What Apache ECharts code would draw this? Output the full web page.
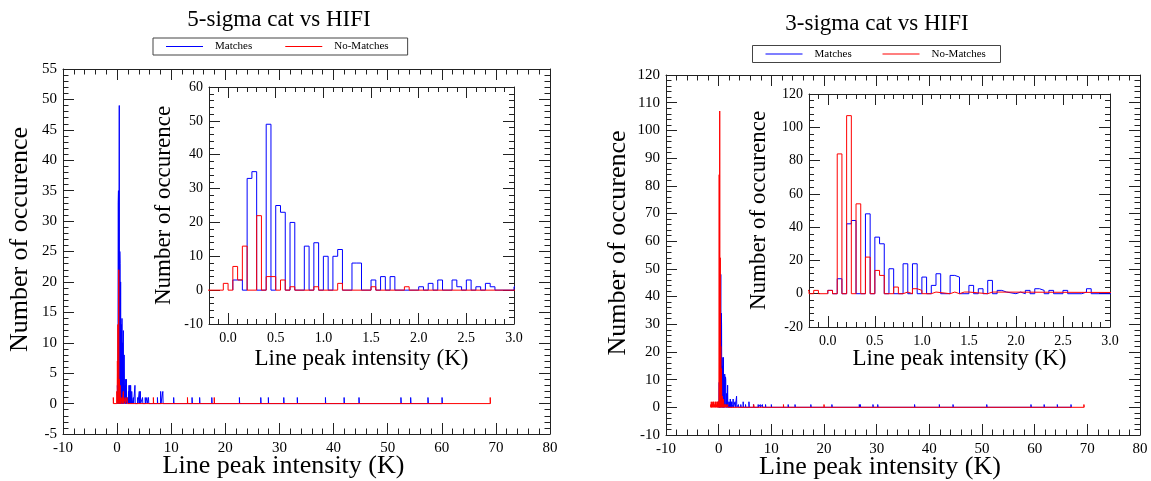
<!DOCTYPE html>
<html><head><meta charset="utf-8">
<script src="https://cdn.jsdelivr.net/npm/echarts@6/dist/echarts.min.js"></script>
<style>html,body{margin:0;padding:0;background:#fff}#c{width:1151px;height:481px}</style>
</head><body><div id="c"></div>
<script>
// ---------- data ----------
const BIN_WIDTH = 0.05; // histogram bin width (K)
// bins: [bin start (K), number of occurrences]
const matches5 = [[0.05,3],[0.1,3],[0.2,33],[0.25,35],[0.4,49],[0.5,25],[0.55,23],[0.65,20],[0.8,13],[0.9,14],[1.0,10],[1.1,10],[1.15,12],[1.3,8],[1.35,8],[1.5,3],[1.6,4],[1.7,4],[2.0,1],[2.1,2],[2.2,3],[2.35,3],[2.4,1],[2.5,3],[2.6,1],[2.7,2],[2.75,1],
  [3.0,1],[3.3,3],[3.8,1],[4.1,2],[4.3,2],[4.7,1],[5.2,1],[5.5,1],[5.8,1],[7.45,1],[8.05,2],[8.45,2],[10.45,1],[13.85,1],[15.25,1],[17.5,1],[22.6,1],[26.55,1],[27.95,1],[30.8,1],[33.3,1],[38.5,1],[41.95,1],[44.7,1],[52.45,1],[54.25,1],[57.45,1],[60.05,1]];
const noMatches5 = [[-0.7,1],[-0.05,2],[0.05,7],[0.1,3],[0.15,13],[0.3,22],[0.4,4],[0.45,4],[0.55,3],[0.65,1],[0.9,1],[1.15,2],[1.5,1],[1.85,1],[6.7,1],[13.0,1],[17.95,1],[68.95,1]];
const matches3 = [[0.0,2],[0.1,9],[0.2,42],[0.25,44],[0.4,48],[0.5,34],[0.55,30],[0.65,15],[0.8,18],[0.9,18],[1.0,10],[1.1,5],[1.15,12],[1.3,11],[1.35,10],[1.5,5],[1.6,3],[1.7,8],[1.8,2],[1.85,1],[2.0,1],[2.1,2],[2.2,3],[2.25,2],[2.35,2],[2.5,2],[2.7,1],[2.75,3],
  [3.1,2],[3.4,4],[3.75,1],[4.2,1],[4.65,2],[5.1,1],[5.75,2],[6.6,1],[7.5,1],[7.9,1],[8.3,1],[8.9,1],[10.0,1],[13.2,1],[14.5,1],[17.5,1],[21.5,1],[26.7,1],[26.9,1],[29.3,1],[30.2,1],[37.2,1],[41.9,1],[44.5,1],[50.9,1],[59.3,1],[61.8,1],[64.3,1],[66.9,1]];
const noMatches3 = [[-1.5,1],[-1.4,2],[-1.25,1],[-1.1,2],[-0.95,2],[-0.8,1],[-0.65,2],[-0.5,2],[-0.35,1],[-0.25,2],[-0.15,2],[0.0,2],[0.1,84],[0.2,107],[0.3,54],[0.4,22],[0.5,14],[0.55,11],[0.7,4],[0.8,1],[0.9,3],[0.95,2],[1.1,1],[1.3,1],[1.4,1],[1.45,1],[1.7,1],[6.65,1],[12.3,1],[20.0,1],[69.35,1]];
const insetXTicks = [0, 0.5, 1.0, 1.5, 2.0, 2.5, 3.0];
const titles = ['5-sigma cat vs HIFI', '3-sigma cat vs HIFI'];
const seriesNames = ['Matches', 'No-Matches'];
const xName = 'Line peak intensity (K)';
const yName = 'Number of occurence';

// ---------- helpers ----------
const FONT = 'Liberation Serif';
const AX = '#222';
const BLUE = '#0000ff', RED = '#ff0000';
function r3(v){ return Math.round(v*1000)/1000; }
function outline(bins){
  const b = bins.slice().sort((p,q)=>p[0]-q[0]);
  const pts = []; let end = null;
  b.forEach(([s,c])=>{
    if (end === null) pts.push([s,0]);
    else if (s - end > 1e-6) { pts.push([end,0]); pts.push([s,0]); }
    pts.push([s,c]); pts.push([r3(s+BIN_WIDTH),c]);
    end = r3(s+BIN_WIDTH);
  });
  pts.push([end,0]);
  return pts;
}
const lineS = {color:AX, width:1};
function valAxis(o){
  return Object.assign({
    type:'value', splitLine:{show:false}, minorSplitLine:{show:false},
    axisLine:{show:true, onZero:false, lineStyle:lineS},
    axisTick:{show:true, inside:true, length:11, lineStyle:lineS},
    axisLabel:{show:false}, nameMoveOverlap:false,
    silent:true
  }, o);
}
function lbl(size, margin){ return {show:true, color:'#000', fontFamily:FONT, fontSize:size, margin:margin}; }
function nameStyle(size, padding){ return {fontFamily:FONT, fontSize:size, color:'#000', padding:padding || 0}; }

// grids: 0 left main, 1 left inset, 2 right main, 3 right inset
const grids = [
  {left:63, top:69, width:487, height:365},
  {left:209, top:87, width:305, height:237},
  {left:666, top:75, width:474, height:360},
  {left:809, top:94, width:301, height:233}
].map(g => Object.assign({outerBoundsMode:'none', containLabel:false}, g));

const xAxes = [], yAxes = [];
function mainAxes(g, ymin, ymax, yint, yNameGap){
  const minor = {show:true, splitNumber:5, length:5.5, lineStyle:lineS};
  xAxes.push(valAxis({gridIndex:g, min:-10, max:80, interval:10, position:'bottom', minorTick:minor,
    axisLabel:lbl(15,7), name:xName, nameLocation:'middle', nameGap:19, nameTextStyle:nameStyle(26,[0,46,0,0])}));
  xAxes.push(valAxis({gridIndex:g, min:-10, max:80, interval:10, position:'top', minorTick:minor}));
  yAxes.push(valAxis({gridIndex:g, min:ymin, max:ymax, interval:yint, position:'left', minorTick:minor,
    axisLabel:lbl(15,6), name:yName, nameLocation:'middle', nameGap:yNameGap, nameTextStyle:nameStyle(26,[0,0,0,24])}));
  yAxes.push(valAxis({gridIndex:g, min:ymin, max:ymax, interval:yint, position:'right', minorTick:minor}));
}
function insetAxes(g, ymin, ymax, yint, yNameGap, xNameGap){
  const minor = {show:true, splitNumber:5, length:5, lineStyle:lineS};
  const xl = lbl(14,7); xl.customValues = insetXTicks; xl.formatter = v => Number(v).toFixed(1);
  xAxes.push(valAxis({gridIndex:g, min:-0.2, max:3.0, interval:0.1, position:'bottom',
    axisTick:{show:true, inside:true, length:5, lineStyle:lineS},
    axisLabel:xl, name:xName, nameLocation:'middle', nameGap:xNameGap, nameTextStyle:nameStyle(23)}));
  xAxes.push(valAxis({gridIndex:g, min:-0.2, max:3.0, position:'bottom', axisLine:{show:false, onZero:false},
    axisTick:{show:true, inside:true, length:11, lineStyle:lineS, customValues:insetXTicks}}));
  xAxes.push(valAxis({gridIndex:g, min:-0.2, max:3.0, interval:0.1, position:'top',
    axisTick:{show:true, inside:true, length:5, lineStyle:lineS}}));
  xAxes.push(valAxis({gridIndex:g, min:-0.2, max:3.0, position:'top', axisLine:{show:false, onZero:false},
    axisTick:{show:true, inside:true, length:11, lineStyle:lineS, customValues:insetXTicks}}));
  yAxes.push(valAxis({gridIndex:g, min:ymin, max:ymax, interval:yint, position:'left', minorTick:minor,
    axisLabel:lbl(14,6), name:yName, nameLocation:'middle', nameGap:yNameGap, nameTextStyle:nameStyle(23)}));
  yAxes.push(valAxis({gridIndex:g, min:ymin, max:ymax, interval:yint, position:'right', minorTick:minor}));
}
mainAxes(0, -5, 55, 5, 30);      // x 0,1  y 0,1
insetAxes(1, -10, 60, 10, 34, 23); // x 2..5 y 2,3
mainAxes(2, -10, 120, 10, 35);   // x 6,7  y 4,5
insetAxes(3, -20, 120, 20, 39, 20); // x 8..11 y 6,7

function histSeries(name, bins, color, xi, yi){
  return {type:'line', name:name, data:outline(bins), xAxisIndex:xi, yAxisIndex:yi,
    showSymbol:false, symbol:'none', clip:true, silent:true, animation:false,
    lineStyle:{color:color, width:1}, itemStyle:{color:color}};
}
const series = [
  histSeries(seriesNames[0], matches5, BLUE, 0, 0),
  histSeries(seriesNames[1], noMatches5, RED, 0, 0),
  histSeries(seriesNames[0], matches5, BLUE, 2, 2),
  histSeries(seriesNames[1], noMatches5, RED, 2, 2),
  histSeries(seriesNames[0], matches3, BLUE, 6, 4),
  histSeries(seriesNames[1], noMatches3, RED, 6, 4),
  histSeries(seriesNames[0], matches3, BLUE, 8, 6),
  histSeries(seriesNames[1], noMatches3, RED, 8, 6)
];

const legendColors = [BLUE, RED];
// left panel: real ECharts legend
const legendLeft = {left:153, top:38, orient:'horizontal', icon:'rect',
  data:seriesNames.map((n,i)=>({name:n, itemStyle:{color:legendColors[i], borderWidth:0}})),
  itemWidth:37, itemHeight:1.2, itemGap:33, padding:[3,19,3,13],
  borderColor:'#444', borderWidth:1, selectedMode:false,
  textStyle:{fontFamily:FONT, fontSize:11, color:'#000', padding:[0,0,0,7]}};
// right panel: the same legend box drawn as a graphic group
function legendGraphic(x, y, w, h, itemX){
  const els = [{type:'rect', shape:{x:0, y:0, width:w, height:h}, style:{fill:'#fff', stroke:'#444', lineWidth:1}}];
  seriesNames.forEach((n,i)=>{
    els.push({type:'line', shape:{x1:itemX[i], y1:h/2, x2:itemX[i]+37, y2:h/2}, style:{stroke:legendColors[i], lineWidth:1.2}});
    els.push({type:'text', x:itemX[i]+49, y:h/2, style:{text:n, fill:'#000', fontFamily:FONT, fontSize:11, align:'left', verticalAlign:'middle'}});
  });
  return {type:'group', x:x, y:y, silent:true, children:els};
}
function titleText(text, x, y){
  return {type:'text', x:x, y:y, silent:true,
    style:{text:text, fill:'#000', fontFamily:FONT, fontSize:23, align:'center', verticalAlign:'middle'}};
}

const chart = echarts.init(document.getElementById('c'), null, {renderer:'canvas'});
chart.setOption({
  backgroundColor:'#fff',
  animation:false,
  grid:grids,
  xAxis:xAxes,
  yAxis:yAxes,
  legend:[legendLeft],
  graphic:[titleText(titles[0], 279, 20), titleText(titles[1], 877, 24),
           legendGraphic(752.5, 45.5, 248, 17, [13, 130])],
  series:series
});
</script></body></html>
